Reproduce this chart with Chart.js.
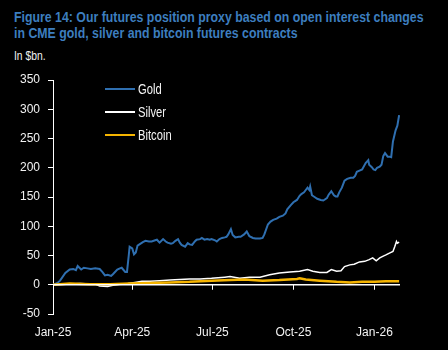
<!DOCTYPE html>
<html>
<head>
<meta charset="utf-8">
<script src="https://cdn.jsdelivr.net/npm/chart.js@4.4.0/dist/chart.umd.min.js"></script>
<style>
  body { margin: 0; background: #000; }
  #wrap { position: relative; width: 448px; height: 350px; overflow: hidden; }
  #chart { position: absolute; left: 0; top: 0; }
  .title {
    position: absolute; left: 14px; top: 9px; white-space: nowrap;
    font-family: "Liberation Sans", Arial, sans-serif;
    font-weight: bold; font-size: 14.5px; line-height: 16px; color: #3d7ebf;
    transform: scaleX(0.85); transform-origin: 0 0;
  }
  .sub {
    position: absolute; left: 14px; top: 49px; white-space: nowrap;
    font-family: "Liberation Sans", Arial, sans-serif;
    font-size: 12px; color: #f2f2f2;
    transform: scaleX(0.86); transform-origin: 0 0;
  }
</style>
</head>
<body>
<div id="wrap">
  <div class="title">Figure 14: Our futures position proxy based on open interest changes<br>in CME gold, silver and bitcoin futures contracts</div>
  <div class="sub">In $bn.</div>
  <canvas id="chart" width="448" height="350"></canvas>
</div>
<script>
// days since 1 Jan 2025
const tickDays = [0, 90, 181, 273, 365];
const tickLabels = ["Jan-25", "Apr-25", "Jul-25", "Oct-25", "Jan-26"];

const goldDays = [0, 5, 8, 14, 19, 23, 26, 28, 32, 35, 39, 43, 48, 53, 56, 59, 62, 66, 68, 73,
  76, 78, 82, 84, 86, 87, 90, 92, 94, 96, 99, 102, 105, 109, 112, 116, 118, 121, 125, 128,
  130, 134, 136, 139, 142, 144, 146, 150, 153, 155, 158, 161, 163, 167, 169, 172, 175, 178, 180, 184,
  186, 189, 192, 195, 197, 199, 202, 204, 207, 211, 213, 217, 220, 223, 227, 230, 235, 238, 240, 244,
  247, 250, 254, 257, 261, 264, 266, 270, 273, 277, 280, 282, 285, 287, 289, 291, 292, 294, 297, 300,
  304, 307, 311, 313, 316, 319, 321, 323, 325, 328, 331, 334, 338, 341, 343, 345, 348, 351, 355, 358,
  359, 362, 364, 366, 368, 371, 373, 375, 377, 380, 382, 384, 386, 389, 391, 393];
const goldValues = [0, 3, 7, 20, 26, 27, 25, 32, 26, 29, 28, 27, 28, 27, 22, 16, 17, 15, 18, 26,
  28, 29, 22, 22, 50, 65, 62, 52, 55, 67, 70, 73, 75, 74, 74, 76, 77, 72, 78, 74,
  72, 70, 71, 75, 78, 72, 68, 65, 71, 69, 68, 74, 77, 78, 80, 77, 78, 77, 78, 76,
  74, 78, 80, 81, 82, 86, 95, 85, 81, 82, 82, 86, 91, 83, 80, 79, 79, 80, 86, 103,
  108, 111, 113, 116, 118, 122, 129, 136, 141, 145, 152, 155, 158, 162, 166, 162, 168, 153, 150, 147,
  145, 144, 148, 154, 160, 153, 151, 151, 158, 166, 178, 181, 183, 183, 186, 193, 195, 197, 208, 213,
  205, 201, 197, 196, 200, 202, 205, 220, 225, 219, 219, 218, 245, 264, 272, 290];

const silverDays = [0, 14, 31, 48, 53, 62, 68, 76, 85, 93, 101, 110, 121, 133, 144, 155, 167, 180, 195, 201,
  212, 223, 235, 246, 257, 269, 280, 289, 295, 303, 311, 316, 322, 327, 331, 337, 342, 348, 354, 359,
  363, 367, 371, 375, 378, 382, 386, 388, 390, 391, 393];
const silverValues = [0, 1, 2, 1, -2, -3, -1, 1, 2, 4, 6, 6, 7, 8, 9, 10, 10, 11, 13, 14,
  11, 13, 13, 17, 20, 22, 23, 26, 23, 21, 21, 26, 23, 24, 31, 34, 35, 39, 40, 43,
  46, 41, 46, 49, 51, 54, 57, 65, 74, 71, 73];

const bitcoinDays = [0, 19, 42, 65, 87, 110, 133, 155, 180, 201, 218, 238, 257, 277, 280, 287, 303, 322, 337, 351,
  365, 378, 393];
const bitcoinValues = [0, 2, 1, 1, 2, 3, 4, 5, 7, 8, 9, 7, 8, 10, 11, 9, 7, 5, 4, 5,
  5, 6, 6];

const seriesNames = ["Gold", "Silver", "Bitcoin"];
const seriesColors = ["#2f6fb0", "#ffffff", "#f5b400"];

const FONT = "'Liberation Sans', Arial, sans-serif";

function toPoints(days, values) {
  return days.map((d, i) => ({ x: d, y: values[i] }));
}

// zero line with tick marks, like the x axis in the original
const zeroAxis = {
  id: "zeroAxis",
  afterDatasetsDraw(chart) {
    const { ctx, chartArea, scales } = chart;
    const y0 = scales.y.getPixelForValue(0);
    ctx.save();
    ctx.strokeStyle = "#ffffff";
    ctx.lineWidth = 1.5;
    ctx.beginPath();
    ctx.moveTo(chartArea.left, y0);
    ctx.lineTo(chartArea.right, y0);
    ctx.stroke();
    ctx.lineWidth = 1;
    tickDays.forEach((d) => {
      const x = Math.round(scales.x.getPixelForValue(d)) + 0.5;
      ctx.beginPath();
      ctx.moveTo(x, y0);
      ctx.lineTo(x, y0 + 5);
      ctx.stroke();
    });
    ctx.restore();
  },
};

// legend drawn inside the plot area, text squeezed like a narrow font
const innerLegend = {
  id: "innerLegend",
  afterDraw(chart) {
    const { ctx, chartArea } = chart;
    ctx.save();
    ctx.font = "14px " + FONT;
    ctx.textBaseline = "middle";
    chart.data.datasets.forEach((ds, i) => {
      const y = chartArea.top + 9 + i * 23;
      const x = chartArea.left + 52;
      ctx.strokeStyle = ds.borderColor;
      ctx.lineWidth = 2;
      ctx.beginPath();
      ctx.moveTo(x, y);
      ctx.lineTo(x + 30, y);
      ctx.stroke();
      ctx.save();
      ctx.translate(x + 33, y + 1);
      ctx.scale(0.8, 1);
      ctx.fillStyle = "#f4f4f4";
      ctx.fillText(ds.label, 0, 0);
      ctx.restore();
    });
    ctx.restore();
  },
};

new Chart(document.getElementById("chart"), {
  type: "line",
  data: {
    datasets: [
      {
        label: seriesNames[0],
        data: toPoints(goldDays, goldValues),
        borderColor: seriesColors[0],
        borderWidth: 2,
        order: 2,
      },
      {
        label: seriesNames[1],
        data: toPoints(silverDays, silverValues),
        borderColor: seriesColors[1],
        borderWidth: 1.5,
        order: 1,
      },
      {
        label: seriesNames[2],
        data: toPoints(bitcoinDays, bitcoinValues),
        borderColor: seriesColors[2],
        borderWidth: 2.5,
        order: 0,
      },
    ],
  },
  options: {
    responsive: false,
    animation: false,
    elements: { point: { radius: 0 }, line: { tension: 0 } },
    layout: { padding: { left: 13, right: 48, top: 80, bottom: 0 } },
    plugins: { legend: { display: false }, tooltip: { enabled: false } },
    scales: {
      x: {
        type: "linear",
        min: 0,
        max: 394,
        afterBuildTicks: (scale) => {
          scale.ticks = tickDays.map((d) => ({ value: d }));
        },
        afterFit: (scale) => { scale.height = 36; },
        grid: { display: false, drawTicks: false },
        border: { display: false },
        ticks: {
          color: "#f2f2f2",
          font: { family: FONT, size: 12 },
          padding: 11,
          maxRotation: 0,
          autoSkip: false,
          callback: (v) => tickLabels[tickDays.indexOf(v)],
        },
      },
      y: {
        min: -50,
        max: 350,
        afterFit: (scale) => { scale.width = 40; },
        ticks: {
          stepSize: 50,
          color: "#f2f2f2",
          font: { family: FONT, size: 12 },
          padding: 8,
        },
        grid: { drawOnChartArea: false, drawTicks: true, tickLength: 5, color: "#ffffff" },
        border: { display: true, color: "#ffffff", width: 1 },
      },
    },
  },
  plugins: [zeroAxis, innerLegend],
});
</script>
</body>
</html>
